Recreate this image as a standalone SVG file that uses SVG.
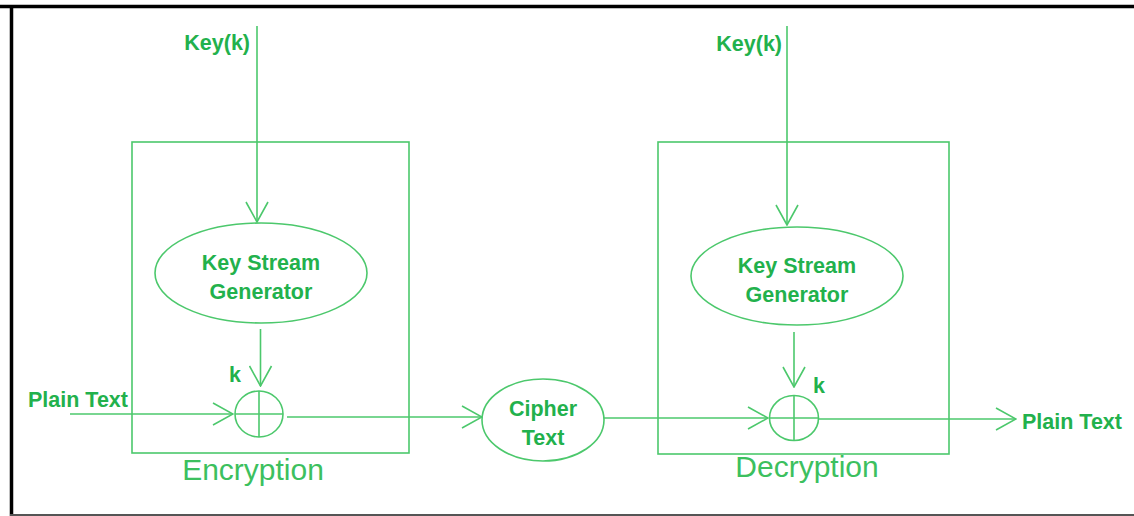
<svg xmlns="http://www.w3.org/2000/svg" width="1134" height="516" viewBox="0 0 1134 516">
  <defs>
    <style>
      .ln { fill: none; stroke: #4cc86c; stroke-width: 1.6; }
      .lbl { font-family: "Liberation Sans", Arial, sans-serif; font-weight: bold; font-size: 21.5px; fill: #22b14c; }
      .cap { font-family: "Liberation Sans", Arial, sans-serif; font-size: 30px; fill: #3cc05e; }
    </style>
    <marker id="vee" viewBox="0 0 22 24" refX="21" refY="12" markerWidth="22" markerHeight="24" markerUnits="userSpaceOnUse" orient="auto">
      <path d="M1,1 L21,12 L1,23" fill="none" stroke="#4cc86c" stroke-width="1.6"/>
    </marker>
  </defs>

  <rect width="1134" height="516" fill="#ffffff"/>
  <!-- frame -->
  <line x1="0" y1="6.5" x2="1134" y2="6.5" stroke="#000" stroke-width="3.5"/>
  <line x1="11.5" y1="5" x2="11.5" y2="516" stroke="#000" stroke-width="3.5"/>
  <line x1="10" y1="515" x2="1134" y2="515" stroke="#555" stroke-width="2"/>

  <!-- encryption block -->
  <g id="encryption">
    <rect class="ln" x="132" y="142" width="277" height="311"/>
    <text class="cap" x="253" y="480" text-anchor="middle">Encryption</text>
  </g>
  <g id="keygen-enc">
    <ellipse class="ln" cx="261" cy="273" rx="106" ry="50"/>
    <text class="lbl" x="261" y="270" text-anchor="middle">Key Stream</text>
    <text class="lbl" x="261" y="299" text-anchor="middle">Generator</text>
  </g>
  <g id="xor-enc">
    <ellipse class="ln" cx="259" cy="414" rx="24" ry="23"/>
    <line class="ln" x1="235" y1="414" x2="283" y2="414"/>
    <line class="ln" x1="259" y1="391" x2="259" y2="437"/>
  </g>

  <!-- cipher text -->
  <g id="cipher">
    <ellipse class="ln" cx="543" cy="420" rx="61" ry="41"/>
    <text class="lbl" x="543" y="416" text-anchor="middle">Cipher</text>
    <text class="lbl" x="543" y="445" text-anchor="middle">Text</text>
  </g>

  <!-- decryption block -->
  <g id="decryption">
    <rect class="ln" x="658" y="142" width="291" height="312"/>
    <text class="cap" x="807" y="477" text-anchor="middle">Decryption</text>
  </g>
  <g id="keygen-dec">
    <ellipse class="ln" cx="797" cy="276" rx="106" ry="49"/>
    <text class="lbl" x="797" y="273" text-anchor="middle">Key Stream</text>
    <text class="lbl" x="797" y="302" text-anchor="middle">Generator</text>
  </g>
  <g id="xor-dec">
    <ellipse class="ln" cx="794" cy="418" rx="24.5" ry="22.5"/>
    <line class="ln" x1="769.5" y1="418" x2="818.5" y2="418"/>
    <line class="ln" x1="794" y1="395.5" x2="794" y2="440.5"/>
  </g>

  <!-- free labels -->
  <g id="labels">
    <text class="lbl" x="250" y="50" text-anchor="end">Key(k)</text>
    <text class="lbl" x="782" y="51" text-anchor="end">Key(k)</text>
    <text class="lbl" x="28" y="407">Plain Text</text>
    <text class="lbl" x="1022" y="429">Plain Text</text>
    <text class="lbl" x="229" y="382">k</text>
    <text class="lbl" x="813" y="393">k</text>
  </g>

  <!-- connectors -->
  <g id="connectors">
    <line class="ln" x1="257" y1="26" x2="257" y2="222" marker-end="url(#vee)"/>
    <line class="ln" x1="260.5" y1="329" x2="260.5" y2="386" marker-end="url(#vee)"/>
    <line class="ln" x1="70" y1="414" x2="233" y2="414" marker-end="url(#vee)"/>
    <line class="ln" x1="287" y1="417" x2="482" y2="417" marker-end="url(#vee)"/>
    <line class="ln" x1="604" y1="418" x2="768" y2="418" marker-end="url(#vee)"/>
    <line class="ln" x1="787" y1="26" x2="787" y2="225" marker-end="url(#vee)"/>
    <line class="ln" x1="794" y1="332" x2="794" y2="387" marker-end="url(#vee)"/>
    <line class="ln" x1="818.5" y1="419" x2="1016" y2="419" marker-end="url(#vee)"/>
  </g>
</svg>
